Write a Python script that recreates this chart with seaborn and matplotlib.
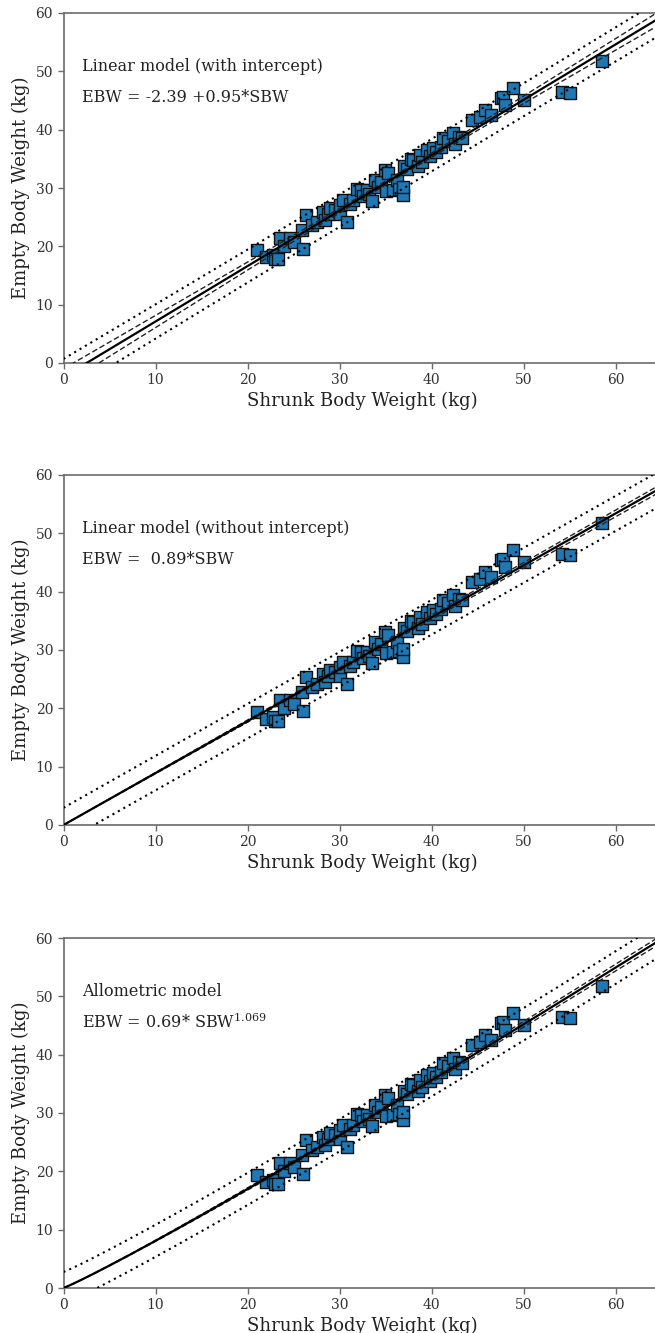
import numpy as np
import pandas as pd
import matplotlib
matplotlib.use("Agg")
import matplotlib.pyplot as plt
import seaborn as sns

# ---------------- data ----------------
sbw = [21.0, 22.0, 22.8, 23.0, 23.3, 23.5, 24.0, 24.6, 25.0, 26.0, 25.9, 26.4,
       27.0, 27.5, 28.2, 28.4, 28.8, 29.0, 29.5, 30.0, 30.05, 30.4, 30.8, 31.1,
       31.5, 31.9, 32.3, 32.5, 33.0, 33.2, 33.5, 33.9, 34.2, 34.5, 34.9, 35.0,
       35.3, 35.8, 36.2, 36.5, 36.9, 36.9, 37.0, 37.3, 37.8, 38.0, 38.5, 38.75,
       39.0, 39.5, 39.8, 40.2, 40.5, 41.0, 41.3, 41.8, 42.3, 42.5, 43.0, 43.3,
       44.4, 45.3, 45.8, 46.5, 47.6, 47.8, 48.0, 48.9, 50.0, 54.2, 55.0, 58.5]
ebw = [19.3, 18.2, 18.6, 17.9, 17.8, 21.4, 20.0, 21.4, 20.8, 19.5, 22.8, 25.4,
       23.6, 24.2, 25.9, 24.5, 25.5, 26.6, 26.2, 25.6, 27.1, 27.9, 24.2, 27.3,
       28.0, 29.9, 29.6, 28.6, 29.7, 29.0, 27.8, 31.4, 30.2, 31.0, 33.1, 29.5,
       32.5, 29.7, 31.4, 29.8, 28.8, 30.2, 33.8, 33.2, 35.0, 34.8, 33.8, 35.7,
       34.4, 36.5, 35.5, 36.8, 36.2, 37.0, 38.5, 38.0, 39.4, 37.5, 38.8, 38.5,
       41.7, 42.2, 43.4, 42.5, 45.4, 45.6, 44.2, 47.1, 45.1, 46.5, 46.3, 51.8]

# model coefficients shown in the chart
lin_a, lin_b = -2.39, 0.95          # with intercept
noint_b = 0.89                      # without intercept
allo_a, allo_b = 0.69, 1.069        # allometric
# residual spread used for the bands (t * s)
band_ts = [2.75, 2.95, 2.75]

titles = ["Linear model (with intercept)",
          "Linear model (without intercept)",
          "Allometric model"]
equations = ["EBW = -2.39 +0.95*SBW",
             "EBW =  0.89*SBW",
             r"EBW = 0.69* SBW$^{\mathregular{1.069}}$"]

xlabel = "Shrunk Body Weight (kg)"
ylabel = "Empty Body Weight (kg)"
xticks = [0, 10, 20, 30, 40, 50, 60]
yticks = [0, 10, 20, 30, 40, 50, 60]

df = pd.DataFrame({"SBW": sbw, "EBW": ebw})

# ---------------- style ----------------
sns.set_style("ticks")
plt.rcParams["font.family"] = ["DejaVu Serif"]
plt.rcParams["mathtext.fontset"] = "dejavuserif"
plt.rcParams["axes.edgecolor"] = "#6a6a6a"
plt.rcParams["xtick.color"] = "#6a6a6a"
plt.rcParams["ytick.color"] = "#6a6a6a"
plt.rcParams["xtick.labelcolor"] = "#333333"
plt.rcParams["ytick.labelcolor"] = "#333333"

W, H = 655, 1333
fig = plt.figure(figsize=(W / 100, H / 100), dpi=100)

left_px = 63.5
xmax = 65.0
px_per_unit = 9.2
ax_w_px = xmax * px_per_unit
panels_px = [(13, 363), (475, 825), (938, 1288)]

x = np.array(sbw)
n = len(x)
xbar = x.mean()
sxx = ((x - xbar) ** 2).sum()
sx2 = (x ** 2).sum()
grid = np.linspace(0, xmax, 400)

for i, (top, bot) in enumerate(panels_px):
    ax = fig.add_axes([left_px / W, 1 - bot / H, ax_w_px / W, (bot - top) / H])
    ts = band_ts[i]
    if i == 0:
        fit = lin_a + lin_b * grid
        ci = ts * np.sqrt(1 / n + (grid - xbar) ** 2 / sxx)
        pi = ts * np.sqrt(1 + 1 / n + (grid - xbar) ** 2 / sxx)
    elif i == 1:
        fit = noint_b * grid
        ci = ts * np.sqrt(grid ** 2 / sx2)
        pi = ts * np.sqrt(1 + grid ** 2 / sx2)
    else:
        fit = allo_a * grid ** allo_b
        ci = ts * np.sqrt(grid ** 2 / sx2) * 1.1
        pi = ts * np.sqrt(1 + grid ** 2 / sx2)

    sns.scatterplot(data=df, x="SBW", y="EBW", ax=ax, marker="s", s=66,
                    color="#1f77b4", edgecolor="#111111", linewidth=1.0,
                    zorder=2, legend=False)
    ax.plot(grid, fit, color="black", lw=1.6, zorder=4)
    ax.plot(grid, fit + ci, color="#222222", lw=1.0, ls=(0, (4, 2)), zorder=3)
    ax.plot(grid, fit - ci, color="#222222", lw=1.0, ls=(0, (4, 2)), zorder=3)
    ax.plot(grid, fit + pi, color="black", lw=1.5, ls=(0, (1, 2.0)), zorder=3)
    ax.plot(grid, fit - pi, color="black", lw=1.5, ls=(0, (1, 2.0)), zorder=3)

    ax.set_xlim(0, xmax)
    ax.set_ylim(0, 60)
    ax.set_xticks(xticks)
    ax.set_yticks(yticks)
    ax.tick_params(labelsize=10, length=4, width=1)
    ax.set_xlabel(xlabel, fontsize=13, color="#222222", labelpad=3)
    ax.set_ylabel(ylabel, fontsize=13, color="#222222", labelpad=4)
    for sp in ax.spines.values():
        sp.set_linewidth(1.2)
    ax.text(2.0, 50.8, titles[i], fontsize=11.5, color="#222222", va="center")
    ax.text(2.0, 45.5, equations[i], fontsize=11.5, color="#222222", va="center")

fig.savefig("out.png", dpi=100)
